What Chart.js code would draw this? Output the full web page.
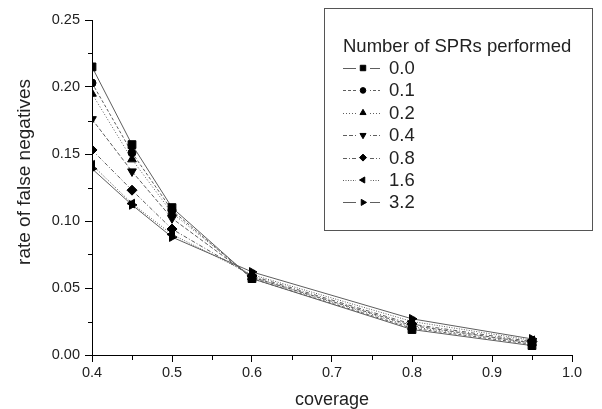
<!DOCTYPE html>
<html>
<head>
<meta charset="utf-8">
<script src="https://cdn.jsdelivr.net/npm/chart.js@4/dist/chart.umd.min.js"></script>
<style>
html,body{margin:0;padding:0;background:#fff;}
#wrap{position:relative;width:602px;height:409px;}
</style>
</head>
<body>
<div id="wrap"><canvas id="c" width="602" height="409"></canvas></div>
<script>
// ---- data ----
const coverage = [0.4, 0.45, 0.5, 0.6, 0.8, 0.95];
const seriesNames = ['0.0', '0.1', '0.2', '0.4', '0.8', '1.6', '3.2'];
const s00 = [0.215, 0.157, 0.110, 0.057, 0.019, 0.007];
const s01 = [0.203, 0.151, 0.108, 0.057, 0.020, 0.008];
const s02 = [0.195, 0.146, 0.106, 0.058, 0.021, 0.009];
const s04 = [0.176, 0.137, 0.102, 0.058, 0.022, 0.009];
const s08 = [0.153, 0.123, 0.094, 0.059, 0.023, 0.010];
const s16 = [0.142, 0.113, 0.090, 0.060, 0.025, 0.011];
const s32 = [0.139, 0.112, 0.088, 0.062, 0.027, 0.012];
const yTickValues = [0, 0.05, 0.10, 0.15, 0.20, 0.25];
const xTickValues = [0.4, 0.5, 0.6, 0.7, 0.8, 0.9, 1.0];
const legendTitle = 'Number of SPRs performed';
const xTitle = 'coverage';
const yTitle = 'rate of false negatives';

// ---- styles ----
const allSeries = [s00, s01, s02, s04, s08, s16, s32];
const markerStyles = [
  {ps:'rect', rot:0, r:5.5},
  {ps:'circle', rot:0, r:4},
  {ps:'triangle', rot:0, r:5},
  {ps:'triangle', rot:180, r:5},
  {ps:'rectRot', rot:0, r:5},
  {ps:'triangle', rot:270, r:5},
  {ps:'triangle', rot:90, r:5}
];
const dashes = [[], [3,2], [1,2], [4,2], [4,2,1,2], [1,1.5], []];
const FONT = 'Arial, "Liberation Sans", sans-serif';

const datasets = allSeries.map((vals, i) => ({
  label: seriesNames[i],
  data: coverage.map((x, j) => ({x: x, y: vals[j]})),
  borderColor: '#5e5e5e',
  borderWidth: 1,
  borderDash: dashes[i],
  pointStyle: markerStyles[i].ps,
  rotation: markerStyles[i].rot,
  pointRadius: markerStyles[i].r,
  pointBackgroundColor: '#000',
  pointBorderColor: '#000',
  pointBorderWidth: 1,
  tension: 0,
  fill: false
}));

const minorTicks = {
  id: 'minorTicks',
  afterDraw(chart) {
    const ctx = chart.ctx;
    const xs = chart.scales.x, ys = chart.scales.y;
    ctx.save();
    ctx.strokeStyle = '#000';
    ctx.lineWidth = 1;
    for (let i = 0; i < xTickValues.length - 1; i++) {
      const v = (xTickValues[i] + xTickValues[i+1]) / 2;
      const px = Math.round(xs.getPixelForValue(v)) + 0.5;
      ctx.beginPath(); ctx.moveTo(px, ys.bottom); ctx.lineTo(px, ys.bottom + 5); ctx.stroke();
    }
    for (let i = 0; i < yTickValues.length - 1; i++) {
      const v = (yTickValues[i] + yTickValues[i+1]) / 2;
      const py = Math.round(ys.getPixelForValue(v)) + 0.5;
      ctx.beginPath(); ctx.moveTo(xs.left, py); ctx.lineTo(xs.left - 4, py); ctx.stroke();
    }
    // y axis title
    ctx.fillStyle = '#222';
    ctx.font = '19px ' + FONT;
    ctx.textAlign = 'center';
    ctx.textBaseline = 'middle';
    ctx.translate(25, 172);
    ctx.rotate(-Math.PI / 2);
    ctx.fillText(yTitle, 0, 0);
    ctx.restore();
  }
};

const boxLegend = {
  id: 'boxLegend',
  afterDraw(chart) {
    const ctx = chart.ctx;
    ctx.save();
    ctx.strokeStyle = '#555';
    ctx.lineWidth = 1;
    ctx.strokeRect(324.5, 8.5, 268, 222);
    ctx.fillStyle = '#222';
    ctx.font = '18.5px ' + FONT;
    ctx.textBaseline = 'middle';
    ctx.textAlign = 'left';
    ctx.fillText(legendTitle, 343, 47);
    chart.data.datasets.forEach((ds, i) => {
      const y = 68 + i * 22.4;
      ctx.save();
      ctx.strokeStyle = ds.borderColor;
      ctx.lineWidth = 1;
      ctx.setLineDash(ds.borderDash);
      ctx.beginPath(); ctx.moveTo(343, Math.round(y) + 0.5); ctx.lineTo(380, Math.round(y) + 0.5); ctx.stroke();
      ctx.restore();
      ctx.fillStyle = '#fff';
      ctx.fillRect(356, y - 5, 14, 10);
      ctx.fillStyle = '#000';
      ctx.strokeStyle = '#000';
      Chart.helpers.drawPoint(ctx, {pointStyle: ds.pointStyle, rotation: ds.rotation, radius: ds.pointRadius * 0.7, borderWidth: 1}, 363, y);
      ctx.fillStyle = '#222';
      ctx.fillText(ds.label, 389, y + 1);
    });
    ctx.restore();
  }
};

new Chart(document.getElementById('c'), {
  type: 'line',
  data: { datasets: datasets },
  options: {
    responsive: false,
    animation: false,
    devicePixelRatio: 1,
    layout: { padding: { left: 0, right: 30, top: 20, bottom: 0 } },
    plugins: { legend: { display: false }, tooltip: { enabled: false } },
    scales: {
      x: {
        type: 'linear',
        min: 0.4, max: 1.0,
        afterBuildTicks: s => { s.ticks = xTickValues.map(v => ({value: v})); },
        afterFit: s => { s.height = 54; },
        grid: { drawOnChartArea: false, drawTicks: true, tickLength: 7, color: '#000', tickColor: '#000' },
        border: { display: true, color: '#000', width: 1 },
        ticks: { color: '#222', font: { size: 14.5, family: FONT }, padding: 2, maxRotation: 0,
                 callback: v => Number(v).toFixed(1) },
        title: { display: true, text: xTitle, color: '#222', font: { size: 18, family: FONT }, padding: { top: 0, bottom: -2 } }
      },
      y: {
        type: 'linear',
        min: 0, max: 0.25,
        afterBuildTicks: s => { s.ticks = yTickValues.map(v => ({value: v})); },
        afterFit: s => { s.width = 92; },
        grid: { drawOnChartArea: false, drawTicks: true, tickLength: 7, color: '#000', tickColor: '#000' },
        border: { display: true, color: '#000', width: 1 },
        ticks: { color: '#222', font: { size: 14.5, family: FONT }, padding: 5,
                 callback: v => Number(v).toFixed(2) },
        title: { display: false }
      }
    }
  },
  plugins: [minorTicks, boxLegend]
});
</script>
</body>
</html>
